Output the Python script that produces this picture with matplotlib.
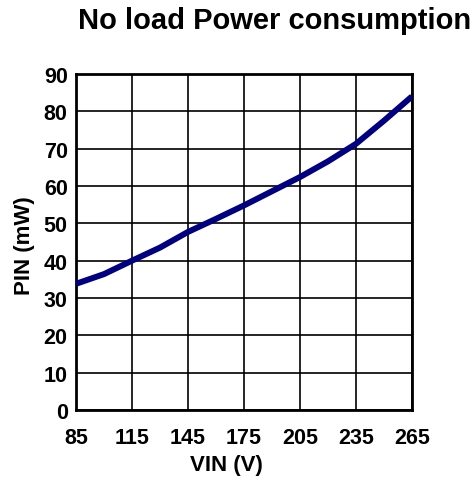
import matplotlib
matplotlib.use("Agg")
import matplotlib.pyplot as plt

# values
vin = [85, 100, 115, 130, 145, 160, 175, 190, 205, 220, 235, 250, 265]
pin = [33.8, 36.4, 40.0, 43.5, 47.7, 51.2, 54.8, 58.6, 62.4, 66.6, 71.3, 77.5, 84.0]
xticks = [85, 115, 145, 175, 205, 235, 265]
yticks = list(range(0, 100, 10))

plt.rcParams["font.family"] = ["Liberation Sans", "DejaVu Sans"]

W, H = 477, 481
fig = plt.figure(figsize=(W / 100, H / 100), dpi=100)
ax = fig.add_axes([76 / W, 1 - 411 / H, 336 / W, 336 / H])

ax.plot(vin, pin, color="#000080", lw=4.3, solid_capstyle="butt", zorder=3)

ax.set_xlim(85, 265)
ax.set_ylim(0, 90)
ax.set_xticks(xticks)
ax.set_yticks(yticks)
ax.grid(True, color="black", lw=1.2)
ax.tick_params(length=0, labelsize=15.5)
ax.tick_params(axis="x", pad=12)
ax.tick_params(axis="y", pad=6)
for lab in ax.get_xticklabels() + ax.get_yticklabels():
    lab.set_fontweight("bold")
for s in ax.spines.values():
    s.set_linewidth(2)

fig.text(226 / W, 1 - 466 / H, "VIN (V)", fontsize=16, fontweight="bold",
         ha="center", va="center")
fig.text(25 / W, 1 - 246 / H, "PIN (mW)", fontsize=16, fontweight="bold",
         ha="center", va="center", rotation=90)
fig.text(275 / W, 1 - 21 / H, "No load Power consumption", fontsize=21,
         fontweight="bold", ha="center", va="center")

fig.savefig("out.png", dpi=100)
